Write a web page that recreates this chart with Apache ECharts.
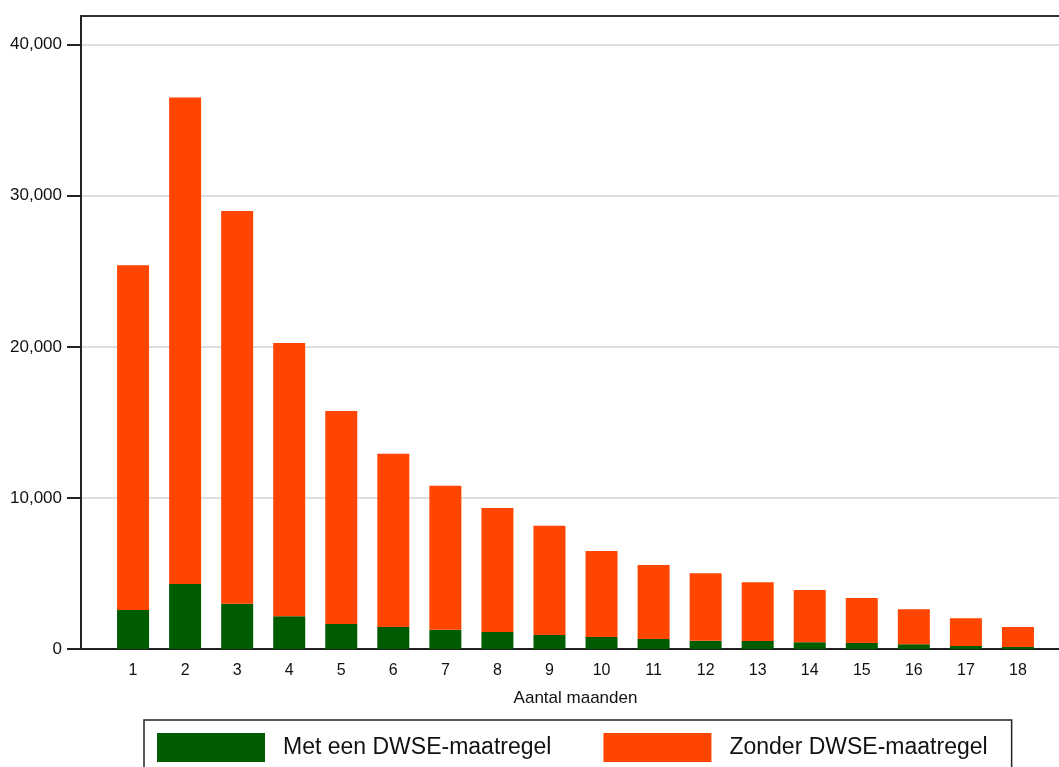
<!DOCTYPE html>
<html>
<head>
<meta charset="utf-8">
<script src="https://cdn.jsdelivr.net/npm/echarts@6/dist/echarts.min.js"></script>
<style>
html,body{margin:0;padding:0;background:#fff;}
#chart{width:1059px;height:767px;}
</style>
</head>
<body>
<div id="chart"></div>
<script>
const months = [1,2,3,4,5,6,7,8,9,10,11,12,13,14,15,16,17,18];
const metDWSE = [2580,4300,3000,2160,1660,1460,1280,1130,930,800,660,550,530,440,400,310,200,130];
const zonderDWSE = [22820,32200,26000,18090,14100,11470,9520,8210,7220,5690,4900,4460,3890,3470,2980,2320,1830,1330];
const yTicks = [0,10000,20000,30000,40000];
const seriesNames = ['Met een DWSE-maatregel','Zonder DWSE-maatregel'];

// empty slots at both ends give the outer gap of the plot region
const axisCats = [''].concat(months.map(String), ['']);
const pad = arr => [null].concat(arr, [null]);

const font = 'Liberation Sans, Arial, Helvetica, sans-serif';
const chart = echarts.init(document.getElementById('chart'), null, {renderer:'canvas'});
chart.setOption({
  animation:false,
  backgroundColor:'#fff',
  textStyle:{fontFamily:font},
  grid:{left:81, top:16, width:989, height:633, show:true, borderColor:'#333', borderWidth:2,
        backgroundColor:'transparent', containLabel:false, outerBoundsMode:'none'},
  legend:{
    left:144, top:720,
    padding:[13,24,20,13],
    borderColor:'#222', borderWidth:1.5, borderRadius:0,
    itemWidth:108, itemHeight:29, itemGap:52,
    icon:'rect',
    textStyle:{fontSize:23, color:'#111', fontFamily:font, padding:[0,0,0,13]},
    data:seriesNames
  },
  xAxis:{
    type:'category', data:axisCats, boundaryGap:false,
    name:'Aantal maanden', nameLocation:'middle', nameGap:41,
    nameTextStyle:{fontSize:17, color:'#111', fontFamily:font},
    axisLine:{show:true, onZero:false, lineStyle:{color:'#222', width:2}},
    axisTick:{show:false},
    splitLine:{show:false},
    axisLabel:{interval:0, fontSize:16, color:'#111', margin:14, fontFamily:font}
  },
  yAxis:{
    type:'value', min:0, max:41900, interval:10000,
    axisLine:{show:true, lineStyle:{color:'#222', width:2}},
    axisTick:{show:true, length:14, customValues:yTicks, lineStyle:{color:'#222', width:2}},
    axisLabel:{customValues:yTicks, fontSize:17, color:'#111', margin:19, fontFamily:font,
      formatter:v=>v.toLocaleString('en-US')},
    splitLine:{show:true, lineStyle:{color:'#dedede', width:2}}
  },
  series:[
    {name:seriesNames[0], type:'bar', stack:'tot', barWidth:32,
     itemStyle:{color:'#005C00'},
     data:pad(metDWSE)},
    {name:seriesNames[1], type:'bar', stack:'tot', barWidth:32,
     itemStyle:{color:'#FF4500'},
     data:pad(zonderDWSE)}
  ]
});
</script>
</body>
</html>
